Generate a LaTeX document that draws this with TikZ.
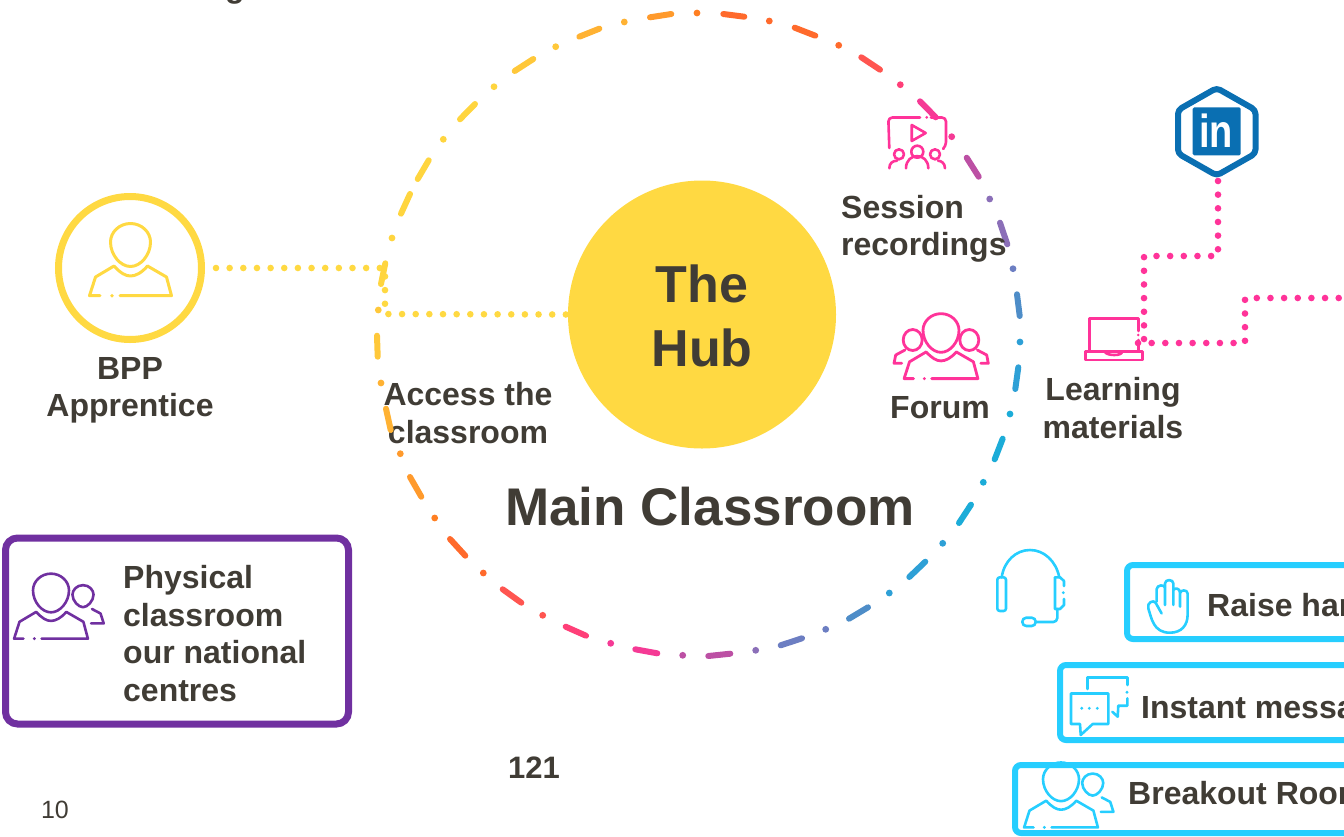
\documentclass[tikz,border=0pt]{standalone}
\usepackage{fontspec}
\setmainfont{Liberation Sans}
\usetikzlibrary{positioning}
\definecolor{ink}{HTML}{403C35}
\definecolor{sun}{HTML}{FFD942}
\definecolor{plum}{HTML}{7030A0}
\definecolor{sky}{HTML}{26CEFF}
\definecolor{rose}{HTML}{FF3399}
\definecolor{inblue}{HTML}{0A6FB2}
\definecolor{ra}{HTML}{FFD53F}
\definecolor{rb}{HTML}{FFC83A}
\definecolor{rc}{HTML}{FFB233}
\definecolor{rd}{HTML}{FF9A2C}
\definecolor{re}{HTML}{FF7F22}
\definecolor{rf}{HTML}{FF6A2C}
\definecolor{rg}{HTML}{FF5550}
\definecolor{rh}{HTML}{FF3F78}
\definecolor{ri}{HTML}{F53A95}
\definecolor{rj}{HTML}{BC50A4}
\definecolor{rk}{HTML}{8B6FB8}
\definecolor{rl}{HTML}{6C7EC2}
\definecolor{rm}{HTML}{4E8DC8}
\definecolor{rn}{HTML}{2EA0D6}
\definecolor{ro}{HTML}{1CACD8}
\tikzset{
	label/.style={font=\bfseries\fontsize{32}{37.5}\selectfont, text=ink, inner sep=0pt, align=center},
	boxtext/.style={label, align=left},
	hubtext/.style={label, font=\bfseries\fontsize{52}{64}\selectfont},
	bluebox/.style={draw=sky, line width=6pt, rounded corners=6pt, anchor=north west, minimum width=500pt},
	dots/.style={line width=6.6pt, line cap=round, dash pattern=on 0pt off 13.65pt},
	icon/.style={line width=2.6pt, line cap=round, line join=round},
	person/.pic={
		\draw (0,-44.5) .. controls (11,-44.5) and (20,-36) .. (20,-26) .. controls (20,-13) and (10,-1.5) .. (0,-1.5) .. controls (-10,-1.5) and (-20,-13) .. (-20,-26) .. controls (-20,-36) and (-11,-44.5) .. cycle;
		\draw (-30.5,27.7) -- (-41,27.7) -- (-35,9) -- (-16.5,-2) .. controls (-10,5) and (-5,8) .. (0,8) .. controls (5,8) and (11,5) .. (17,-2) -- (36,9) -- (41,27.7) -- (-10.5,27.7);
		\fill (-18.5,27.7) circle (1.8);
	},
	sideperson/.pic={
		\draw (0,-13.5) .. controls (7,-13.5) and (11.7,-8) .. (11.7,-3) .. controls (11.7,4) and (5,11) .. (0,11) .. controls (-5,11) and (-11.7,4) .. (-11.7,-3) .. controls (-11.7,-8) and (-7,-13.5) .. cycle;
		\draw (10,13) -- (19.5,18) -- (23,29) -- (9,29);
	},
}
\begin{document}
\begin{tikzpicture}[x=1pt,y=-1pt]
	\useasboundingbox (0,0) rectangle (1344,836);
	\clip (0,0) rectangle (1344,836);
	\node[circle, fill=sun, minimum size=268pt, inner sep=0pt] (hub) at (702,314.5) {};
	\node[hubtext] (hubname) at (702,316) {The\\Hub};
	\node[label, font=\bfseries\fontsize{53}{60}\selectfont, below=120pt of hubname.south, xshift=8pt] (main) {Main Classroom};
	\node[circle, draw=sun, line width=7pt, minimum size=143pt, inner sep=0pt] (learner) at (130,268) {};
	\node[label, below=14pt of learner] (learnername) {BPP\\Apprentice};
	\node[label] (access) at (468,413) {Access the\\classroom};
	\coordinate (c0) at (385,268);
	\coordinate (c1) at (385,314);
	\draw[sun, dots] (learner.east) ++(11,0) -- (c0) -- (c1) -- (hub.west);
	\foreach \xa/\ya/\xb/\yb/\col in {
		723.3/14/744.3/16.7/rf, 794.7/27.7/815.3/35.7/rf, 861.3/57.3/880/69.7/rg, 920/101.3/935.7/117.3/ri,
		966.7/157.7/978.7/176.7/rj, 1000/222.7/1007.3/244.3/rk, 1017/294.3/1019.7/316/rm, 1018.3/367.3/1015.3/389/rn,
		1002.7/438.7/994.7/459.3/ro, 971/504.7/959/523/ro, 925.3/561.7/909.3/577/rn, 868/607.3/849/618.7/rm,
		802/638.3/780.7/645.3/rl, 730.3/653.7/708.3/656/rj, 657.3/653.3/635.3/649.3/ri, 586/635.7/565.7/626.7/rh,
		521.3/602.7/502.7/589.3/rg, 465.3/555.7/450/539/rf, 421.3/496.7/410/477/rd, 390.7/430/386/408.7/rc,
		377.7/356.7/377/335.7/rb, 381/284/385.3/263.3/ra, 401/213.7/410/194/ra, 417.7/179/428.7/160.3/ra,
		460/119.3/475/104/ra, 514.7/71/533.3/59/rb, 579.3/36.7/599.3/28.7/rc, 650/17.3/671.3/14/rd}
	{
		\draw[\col, line width=6pt, line cap=round] (\xa,\ya) -- (\xb,\yb);
	}
	\foreach \xa/\ya/\col in {
		697/13/re, 769.3/21/rf, 838.7/45.3/rf, 900.3/84.7/rh, 951.7/136.7/ri, 989.7/199/rk, 1013/268.7/rl, 1020/342/rn,
		1010/414/ro, 983.3/482.3/ro, 942.7/543.3/rn, 889.3/593/rn, 825.7/629.3/rl, 755.7/650.3/rk, 682.7/655.3/rj,
		610.7/643.3/ri, 542.7/615.3/rg, 483.3/573/rf, 434.7/518/re, 400.3/453.7/rd, 381/383/rc, 378.3/310/rb,
		392/238/ra, 443.3/139.3/ra, 494/86.7/ra, 555.7/46.7/rb, 624.3/22/rc}
	{
		\fill[\col] (\xa,\ya) circle (3.4);
	}
	\node[label] (gpart) at (235,-8) {g};
	\pic[sun, line width=3pt, line cap=round, line join=round] at (130.5,268) {person};
	\node[draw=plum, line width=7pt, rounded corners=12pt, anchor=north west, minimum width=343pt, minimum height=186pt] (physbox) at (2,534.5) {};
	\node[boxtext, anchor=north west] (phystext) at (123,565.5) {Physical\\classroom\\our national\\centres};
	\pic[plum, scale=0.9, line width=2.6pt, line cap=round, line join=round] at (51,613.7) {person};
	\pic[plum, scale=0.9, line width=2.6pt, line cap=round, line join=round] at (83,597.3) {sideperson};
	\node[bluebox, minimum height=74pt] (raise) at (1124,562) {};
	\node[bluebox, minimum height=75pt] (instant) at (1057,662) {};
	\node[bluebox, minimum height=68pt] (breakout) at (1012,762) {};
	\node[boxtext, anchor=base west] (raisetext) at (1207,616) {Raise hand};
	\node[boxtext, anchor=base west] (instanttext) at (1141,718) {Instant messaging};
	\node[boxtext, anchor=base west] (breakouttext) at (1128,804) {Breakout Rooms};
	\pic[sky, scale=0.9, line width=2.6pt, line cap=round, line join=round] at (1061,802.5) {person};
	\pic[sky, scale=0.9, line width=2.6pt, line cap=round, line join=round] at (1092.7,785.7) {sideperson};
	\begin{scope}[sky, icon, shift={(1168.3,606.7)}]
		\draw (-6.7,6.7) -- (-12.7,-4) .. controls (-15,-7.3) and (-21.7,-4) .. (-20,1.7) .. controls (-16.7,11.7) and (-15,26) .. (1.7,26) .. controls (13.3,26) and (19.3,18.3) .. (19.3,8.3) -- (19.3,-13.3) .. controls (19.3,-17.3) and (11.7,-17.3) .. (11.7,-13.3) -- (11.7,0);
		\draw (5,-1.7) -- (5,-23.3) .. controls (5,-27.7) and (-3.3,-27.7) .. (-3.3,-23.3) -- (-3.3,-1.7);
		\draw (-11.7,-5) -- (-11.7,-17.3) .. controls (-11.7,-22.3) and (-3.3,-22.3) .. (-3.3,-19);
		\draw (5,-16.7) .. controls (6,-19) and (11.7,-19) .. (11.7,-14);
	\end{scope}
	\begin{scope}[sky, icon]
		\draw (1080,724) -- (1071,724) -- (1071,693.5) -- (1108.3,693.5) -- (1108.3,724) -- (1092.7,724) -- (1080.7,735) -- (1080,724);
		\fill (1081.7,708.3) circle (1.6) (1089.3,708.3) circle (1.6) (1097.3,708.3) circle (1.6);
		\draw (1087.3,689) -- (1087.3,677.7) -- (1127.3,677.7) -- (1127.3,685);
		\fill (1127,692.3) circle (1.6);
		\draw (1127.3,698.3) -- (1127.3,705.7) -- (1118.3,705.7) -- (1117.7,716.7) -- (1112.3,711.7);
	\end{scope}
	\begin{scope}[sky, icon]
		\draw (1001.7,577.3) .. controls (1004,561) and (1016,550) .. (1030,550) .. controls (1044,550) and (1056,561) .. (1059.3,577.3);
		\draw[rounded corners=2.5pt] (997.3,577.3) rectangle (1006,611);
		\draw (1055,577.3) -- (1060,577.3) -- (1064,581) -- (1064,586);
		\fill (1063.3,592.7) circle (1.6);
		\draw (1064,599) -- (1064,605) -- (1060,609) -- (1055,609) -- (1055,577.3);
		\draw[rounded corners=4pt] (1057.3,609) -- (1057.3,622) -- (1036,622);
		\draw[rounded corners=4pt] (1022.3,617.7) rectangle (1035.7,626);
	\end{scope}
	\begin{scope}[rose, icon]
		\draw[rounded corners=4pt] (889.3,148) -- (888.3,117.5) -- (920,117.5);
		\fill (926.7,117.3) circle (1.5);
		\draw[rounded corners=4pt] (931,117.5) -- (946,117.5) -- (946,146) -- (944,148);
		\draw (911.7,125) -- (925.7,133) -- (911.7,141) -- cycle;
		\draw (917.3,151.7) circle (6);
		\draw (906,168.3) .. controls (906,152) and (928.3,152) .. (928.3,168.3);
		\draw (899,154.3) circle (5);
		\draw (935,154.3) circle (5);
		\draw (889.3,168.3) .. controls (889.3,163) and (893,160.7) .. (897,160.7);
		\draw (945,168.3) .. controls (945,163) and (941,160.7) .. (938,160.7);
	\end{scope}
	\pic[rose, scale=0.9, line width=2.8pt, line cap=round, line join=round] at (941,353.7) {person};
	\begin{scope}[rose, line width=2.8pt, line cap=round, line join=round]
		\draw (912.7,340) ellipse (9.5 and 10.5);
		\draw (969.3,340) ellipse (9.5 and 10.5);
		\draw (905,350) -- (895.7,355) -- (894,363.3) -- (901.7,363.3);
		\draw (977.3,350) -- (986.7,355) -- (988.3,363.3) -- (980.7,363.3);
	\end{scope}
	\begin{scope}[rose, icon]
		\draw (1138.3,331) -- (1138.3,318.3) -- (1089.3,318.3) -- (1089.3,351);
		\draw (1138.3,340) -- (1138.3,351);
		\fill (1138.3,335) circle (1.4);
		\draw (1085.7,351.5) rectangle (1142.7,360);
		\draw (1105,352) .. controls (1107,356) and (1122,356) .. (1122,352);
	\end{scope}
	\node[inner sep=0pt, minimum size=48pt, fill=inblue, rounded corners=1.5pt] (linkedin) at (1216.7,131.3) {};
	\draw[inblue, line width=6pt, line join=round, rounded corners=4pt] (1216.7,88) -- (1255.5,110) -- (1255.5,153.5) -- (1216.7,175.5) -- (1178,153.5) -- (1178,110) -- cycle;
	\node[font=\bfseries\fontsize{38}{38}\selectfont, text=white, inner sep=0pt, yscale=1.22, anchor=base] (intext) at (1216,147) {in};
	\coordinate (p0) at (1218,181);
	\coordinate (p1) at (1218,256);
	\coordinate (p2) at (1144,256);
	\coordinate (p3) at (1144,343);
	\coordinate (p4) at (1245,343);
	\coordinate (p5) at (1245,298);
	\coordinate (p6) at (1350,298);
	\coordinate (p7) at (1138,343);
	\draw[rose, dots] (p0) -- (p1) -- (p2) -- (p3);
	\draw[rose, dots] (p7) -- (p4) -- (p5) -- (p6);
	\node[label, anchor=north west, align=left] (session) at (841,195) {Session\\recordings};
	\node[label] (forum) at (940,408) {Forum};
	\node[label] (materials) at (1113,408) {Learning\\materials};
	\node[label, font=\bfseries\fontsize{31}{31}\selectfont] (count) at (534,768) {121};
	\node[label, font=\fontsize{25}{25}\selectfont] (page) at (55,810) {10};
\end{tikzpicture}
\end{document}
